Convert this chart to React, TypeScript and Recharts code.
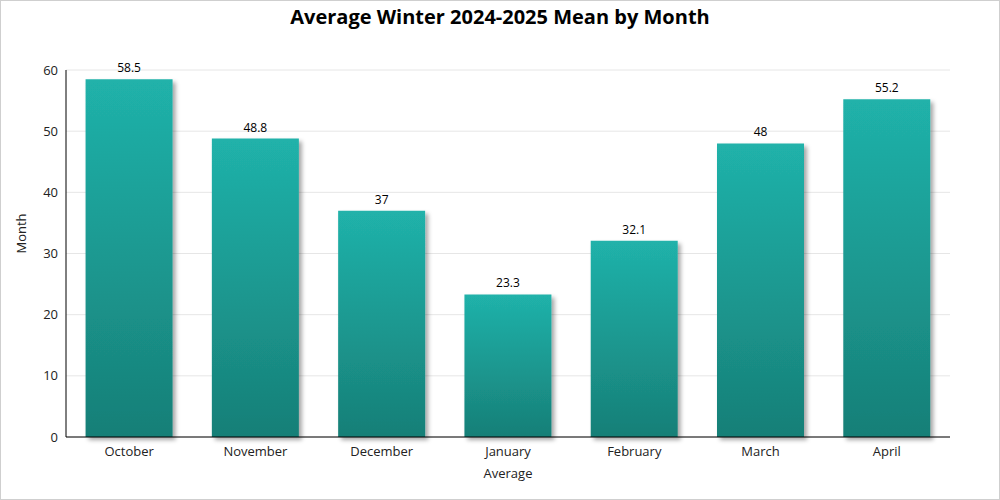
import { Bar, BarChart, CartesianGrid, LabelList, XAxis, YAxis } from 'recharts';

const months = ['October', 'November', 'December', 'January', 'February', 'March', 'April'];
const averages = [58.5, 48.8, 37, 23.3, 32.1, 48, 55.2];
const yTicks = [0, 10, 20, 30, 40, 50, 60];

const data = months.map((month, i) => ({ month, value: averages[i] }));

const font = '"Segoe UI", "Open Sans", sans-serif';

export default function App() {
  return (
    <div
      style={{
        position: 'absolute',
        left: 0,
        top: 0,
        width: 1000,
        height: 500,
        boxSizing: 'border-box',
        border: '1px solid #cfcfcf',
        background: '#fff',
        fontFamily: font,
      }}
    >
      <div
        style={{
          position: 'absolute',
          top: 2,
          left: 0,
          width: '100%',
          textAlign: 'center',
          fontSize: 20,
          fontWeight: 700,
          color: '#000',
        }}
      >
        Average Winter 2024-2025 Mean by Month
      </div>
      <BarChart
        width={998}
        height={498}
        data={data}
        margin={{ top: 69, right: 49, bottom: 0, left: 0 }}
        barCategoryGap="15.5%"
        style={{ fontFamily: font }}
      >
        <defs>
          <linearGradient id="barFill" x1="0" y1="0" x2="0" y2="1">
            <stop offset="0%" stopColor="#20b2aa" />
            <stop offset="100%" stopColor="#177f77" />
          </linearGradient>
          <filter id="barShadow" x="-20%" y="-20%" width="140%" height="140%">
            <feDropShadow dx="3" dy="3" stdDeviation="2" floodColor="#000" floodOpacity="0.35" />
          </filter>
        </defs>
        <CartesianGrid vertical={false} stroke="#e6e6e6" />
        <XAxis
          dataKey="month"
          height={62}
          tickLine={false}
          axisLine={{ stroke: '#000' }}
          tick={{ fill: '#222', fontSize: 13, dy: 2 }}
          label={{ value: 'Average', position: 'insideBottom', offset: 21, fill: '#222', fontSize: 13 }}
        />
        <YAxis
          width={65}
          domain={[0, 60]}
          ticks={yTicks}
          tickLine={false}
          axisLine={{ stroke: '#000' }}
          tick={{ fill: '#222', fontSize: 13 }}
          label={{ value: 'Month', angle: -90, position: 'insideLeft', offset: 20, fill: '#222', fontSize: 13 }}
        />
        <Bar dataKey="value" fill="url(#barFill)" filter="url(#barShadow)" isAnimationActive={false}>
          <LabelList dataKey="value" position="top" fill="#000" fontSize={12} offset={7} />
        </Bar>
      </BarChart>
    </div>
  );
}
